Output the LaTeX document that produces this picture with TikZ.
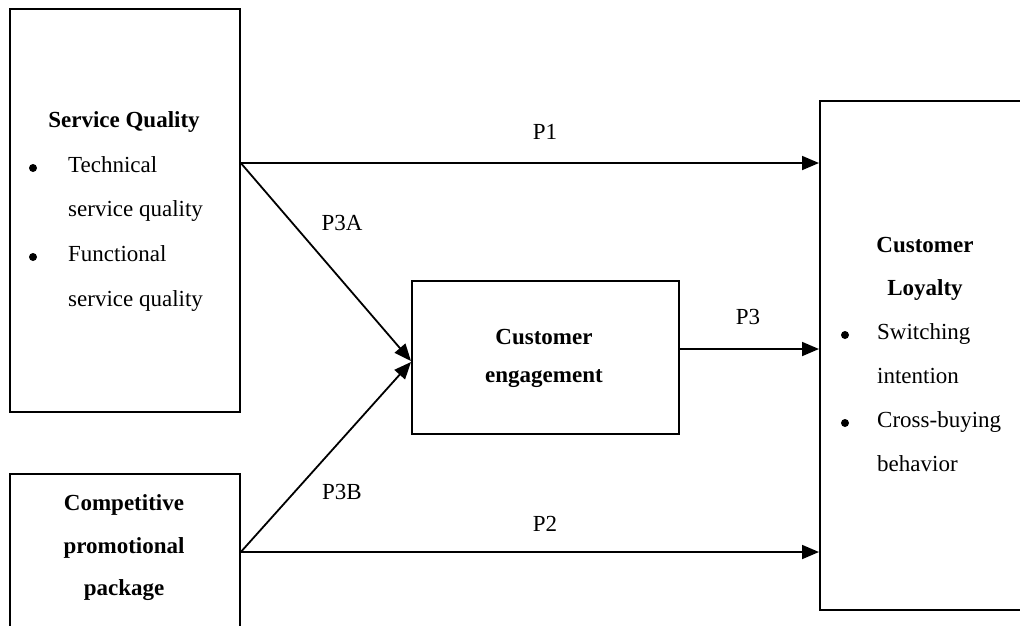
\documentclass[tikz,border=0pt]{standalone}
\usepackage{fontspec}
\setmainfont{Liberation Serif}
\usetikzlibrary{arrows.meta}
\begin{document}
\begin{tikzpicture}[x=1pt,y=-1pt,
  box/.style={draw,line width=1.8pt,inner sep=0pt},
  conn/.style={line width=1.8pt,-{Triangle[length=17pt,width=14pt]}},
  txt/.style={font=\fontsize{23}{27}\selectfont,inner sep=0pt},
  btxt/.style={font=\fontsize{23}{27}\selectfont\bfseries,inner sep=0pt},
  bul/.style={circle,fill=black,inner sep=0pt,minimum size=8pt}]
\useasboundingbox (0,0) rectangle (1020,625);
\clip (0,0) rectangle (1020,625);
% boxes
\node[box,minimum width=230pt,minimum height=403pt,anchor=north west] (sq) at (9,8) {};
\node[box,minimum width=230pt,minimum height=170pt,anchor=north west] (cp) at (9,473) {};
\node[box,minimum width=267pt,minimum height=153pt,anchor=north west] (ce) at (411,280) {};
\node[box,minimum width=220pt,minimum height=509pt,anchor=north west] (cl) at (819,100) {};
% service quality text
\node[btxt] (sqt) at (124,122) {Service Quality};
\node[bul] (sqb1) at (33,168) {};
\node[txt,anchor=mid west] (sq1) at (68,170) {Technical};
\node[txt,anchor=mid west] (sq2) at (68,214) {service quality};
\node[bul] (sqb2) at (33,257) {};
\node[txt,anchor=mid west] (sq3) at (68,259) {Functional};
\node[txt,anchor=mid west] (sq4) at (68,304) {service quality};
% competitive
\node[btxt] (cp1) at (124,505) {Competitive};
\node[btxt] (cp2) at (124,548) {promotional};
\node[btxt] (cp3) at (124,590) {package};
% engagement
\node[btxt] (ce1) at (544,337) {Customer};
\node[btxt] (ce2) at (544,379) {engagement};
% loyalty
\node[btxt] (cl1) at (925,245) {Customer};
\node[btxt] (cl2) at (925,290) {Loyalty};
\node[bul] (clb1) at (845,335) {};
\node[txt,anchor=mid west] (cl3) at (877,337) {Switching};
\node[txt,anchor=mid west] (cl4) at (877,381) {intention};
\node[bul] (clb2) at (845,423) {};
\node[txt,anchor=mid west] (cl5) at (877,425) {Cross-buying};
\node[txt,anchor=mid west] (cl6) at (877,469) {behavior};
% connectors
\draw[conn] (sq.east |- 0,163) -- (cl.west |- 0,163);
\draw[conn] (sq.east |- 0,163) -- (ce.west |- 0,361);
\draw[conn] (cp.east |- 0,552) -- (ce.west |- 0,362);
\draw[conn] (cp.east |- 0,552) -- (cl.west |- 0,552);
\draw[conn] (ce.east |- 0,349) -- (cl.west |- 0,349);
% labels
\node[txt] (l1) at (545,132) {P1};
\node[txt] (l3a) at (342,223) {P3A};
\node[txt] (l3) at (748,317) {P3};
\node[txt] (l3b) at (342,492) {P3B};
\node[txt] (l2) at (545,524) {P2};
\end{tikzpicture}
\end{document}
